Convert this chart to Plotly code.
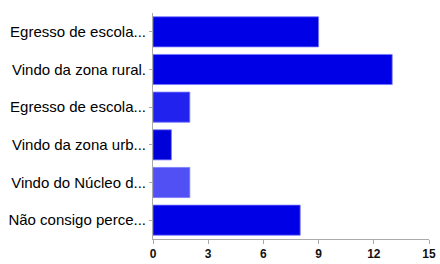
import plotly.graph_objects as go

categories = [
    "Egresso de escola...",
    "Vindo da zona rural.",
    "Egresso de escola...",
    "Vindo da zona urb...",
    "Vindo do Núcleo d...",
    "Não consigo perce...",
]
values = [9, 13, 2, 1, 2, 8]
bar_colors = ["#0000e6", "#0000e6", "#2222ee", "#0000d8", "#5050f4", "#0000e6"]
x_ticks = [0, 3, 6, 9, 12, 15]

# unique y positions so duplicate labels stay separate
ypos = list(range(len(categories)))

FONT = "Liberation Sans, Arial, sans-serif"

fig = go.Figure(
    go.Bar(
        x=values,
        y=ypos,
        orientation="h",
        marker=dict(color=bar_colors, line=dict(color="rgba(120,120,255,0.8)", width=1)),
        width=0.8,
        hoverinfo="none",
    )
)

fig.update_layout(
    width=440,
    height=264,
    margin=dict(l=153, r=11, t=13, b=25),
    paper_bgcolor="white",
    plot_bgcolor="white",
    showlegend=False,
    font=dict(family=FONT, color="#111111", size=12),
)
fig.update_xaxes(
    range=[0, 15],
    tickvals=x_ticks,
    ticktext=[str(t) for t in x_ticks],
    showgrid=False,
    zeroline=False,
    showline=True,
    linecolor="#aaaaaa",
    linewidth=1,
    ticks="outside",
    ticklen=4,
    tickcolor="#aaaaaa",
    automargin=False,
    tickfont=dict(size=12, color="#111111", family=FONT, weight="bold"),
)
fig.update_yaxes(
    tickvals=ypos,
    ticktext=categories,
    range=[len(categories) - 0.5, -0.5],
    showgrid=False,
    zeroline=False,
    showline=True,
    linecolor="#aaaaaa",
    linewidth=1,
    ticks="outside",
    ticklen=3,
    tickcolor="#aaaaaa",
    ticklabelstandoff=0,
    automargin=False,
    tickfont=dict(size=15, color="#000000", family=FONT),
)

fig.write_html(
    "out.html",
    config={"displayModeBar": False},
    post_script="document.body.style.margin='0';document.body.style.overflow='hidden';",
)
